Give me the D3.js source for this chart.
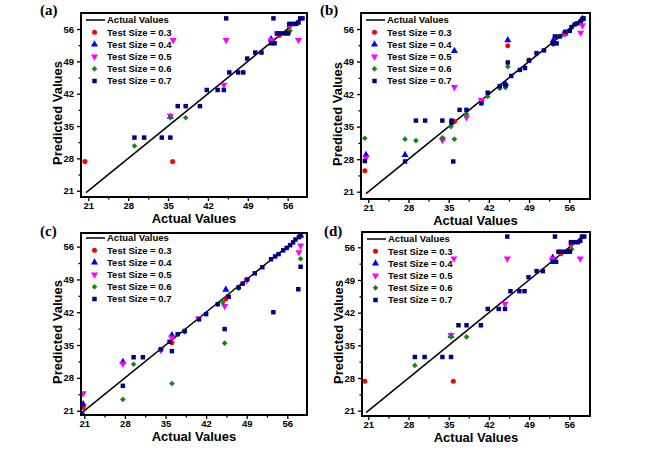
<!DOCTYPE html>
<html><head><meta charset="utf-8">
<script src="https://cdn.jsdelivr.net/npm/d3@7"></script>
<style>
body{margin:0;background:#fff}
svg{display:block}
</style>
</head><body>
<svg id="chart" width="669" height="474" font-family='"Liberation Sans", Arial, sans-serif' font-weight="bold"></svg>
<script>
// ---------- labels / ticks ----------
const majorTicks = [21, 28, 35, 42, 49, 56];
const minorTicks = [24.5, 31.5, 38.5, 45.5, 52.5];
const seriesNames = ["Test Size = 0.3", "Test Size = 0.4", "Test Size = 0.5", "Test Size = 0.6", "Test Size = 0.7"];
const lineLabel = "Actual Values";
const xTitle = "Actual Values";
const yTitle = "Predicted Values";
const panelLabels = ["(a)", "(b)", "(c)", "(d)"];
const diagonalRange = [20.6, 58.5];

// ---------- data: [actual, predicted] ----------
// panel (a) and (d) (identical content)
const ad_ts03 = [[20.4,27.3],[35.8,27.3],[56.3,56.6],[54.5,54.6]];
const ad_ts04 = [[35.4,37.0],[53.1,53.8]];
const ad_ts05 = [[35.9,53.6],[45.2,53.6],[44.8,43.9],[57.9,53.6],[53.1,53.6],[35.4,37.2],[56.4,56.8]];
const ad_ts06 = [[29.1,30.7],[35.4,36.8],[38.1,36.8],[56.1,55.3],[56.4,55.6]];
const ad_ts07 = [[29.1,32.5],[30.8,32.5],[33.9,32.5],[35.4,32.5],[36.7,39.3],[38.1,39.3],[40.6,39.3],
  [41.8,42.8],[43.7,42.8],[44.8,42.8],[45.75,46.6],[47.3,46.6],[48.2,46.6],[48.9,49.6],[50.3,50.9],
  [51.4,50.9],[53.1,52.9],[53.7,52.9],[54.1,55.05],[54.5,55.05],[55.2,55.05],[55.8,55.05],[56.1,55.05],
  [56.3,57.1],[56.9,57.1],[57.5,57.1],[57.9,57.4],[58.2,58.3],[58.6,58.3],[45.2,58.3],[53.5,58.3]];

// panel (b)
const b_ts03 = [[20.4,25.5],[36.0,36.1],[45.3,52.4],[40.7,40.5],[49.0,49.3],[55.4,55.0],[34.0,32.4]];
const b_ts04 = [[20.6,28.9],[27.4,28.9],[36.0,51.3],[45.3,53.6],[44.9,44.2],[53.2,53.5],[58.3,58.2]];
const b_ts05 = [[20.6,28.3],[33.9,32.1],[36.0,43.5],[38.1,37.0],[58.0,55.2],[58.3,56.8],[55.2,55.0],[40.7,40.7]];
const b_ts06 = [[20.4,32.5],[27.4,32.3],[29.3,32.0],[33.9,32.6],[36.0,32.3],[35.4,35.0],[38.1,37.7],
  [41.8,41.5],[43.9,43.2],[44.9,43.4],[45.3,47.9],[53.2,52.7],[56.6,56.6],[54.6,54.5]];
const b_ts07 = [[20.4,27.6],[27.4,27.5],[29.3,36.3],[30.9,36.3],[33.9,36.3],[35.5,36.3],[35.8,27.5],
  [35.5,35.8],[36.9,38.6],[38.1,38.6],[40.7,40.0],[41.8,42.3],[43.9,43.7],[44.9,43.9],[45.3,48.8],
  [45.9,45.9],[47.4,47.2],[48.3,47.6],[49.0,49.2],[50.3,50.8],[51.6,51.4],[53.2,52.9],[53.8,52.9],
  [53.5,54.4],[54.3,54.4],[55.3,55.4],[56.1,55.6],[56.4,56.4],[57.0,57.0],[57.4,57.2],[58.0,57.7],
  [58.3,58.1],[58.5,58.3]];

// panel (c)
const c_ts03 = [[20.8,21.7],[36.1,35.5],[45.4,44.8]];
const c_ts04 = [[20.8,20.1],[20.8,22.4],[27.65,31.4],[36.1,37.1],[45.4,46.8],[58.3,58.4]];
const c_ts05 = [[20.8,24.7],[27.65,31.0],[34.2,33.9],[36.1,36.6],[40.7,40.7],[45.2,43.3],[49.0,48.8],[58.0,54.8],[58.3,56.2]];
const c_ts06 = [[27.65,23.4],[29.5,30.9],[36.1,26.8],[38.3,37.8],[44.9,44.1],[45.2,35.4],[47.6,47.1],[58.3,53.4]];
const c_ts07 = [[27.65,26.3],[29.5,32.4],[31.1,32.4],[34.2,34.1],[35.7,35.7],[36.1,33.7],[37.1,37.3],
  [38.3,38.0],[40.8,40.5],[42.0,41.6],[44.0,43.7],[45.2,38.4],[45.9,45.3],[47.6,47.3],[48.3,48.1],
  [49.1,49.0],[50.4,50.3],[51.7,51.6],[53.2,53.3],[53.6,42.0],[53.9,53.9],[54.5,54.4],[55.3,55.2],
  [55.9,55.7],[56.5,56.3],[57.0,56.9],[57.4,57.5],[57.9,46.9],[58.0,58.0],[58.3,51.7],[58.3,58.3]];

// ---------- styles ----------
const colors = ["#ff0000", "#0000ff", "#ff00ff", "#118811", "#000080"];
const symbols = [
  {type: d3.symbolCircle, size: 20, rot: 0},
  {type: d3.symbolTriangle, size: 22, rot: 0},
  {type: d3.symbolTriangle, size: 22, rot: 180},
  {type: d3.symbolSquare, size: 16, rot: 45},
  {type: d3.symbolSquare, size: 20, rot: 0}
];

const panels = [
  {label: panelLabels[0], frame: [81, 13, 307, 197], xd: [19.72, 59.39], yd: [19.64, 59.46],
   series: [ad_ts03, ad_ts04, ad_ts05, ad_ts06, ad_ts07], labelPos: [40, 15], legY: 7},
  {label: panelLabels[1], frame: [361, 13, 590, 199], xd: [19.73, 59.62], yd: [19.43, 59.44],
   series: [b_ts03, b_ts04, b_ts05, b_ts06, b_ts07], labelPos: [320, 15], legY: 7},
  {label: panelLabels[2], frame: [81, 233, 307, 415], xd: [20.43, 59.4], yd: [20.08, 58.9],
   series: [c_ts03, c_ts04, c_ts05, c_ts06, c_ts07], labelPos: [40, 236], legY: 5},
  {label: panelLabels[3], frame: [362, 232, 590, 416], xd: [19.9, 59.6], yd: [19.86, 59.28],
   series: [ad_ts03, ad_ts04, ad_ts05, ad_ts06, ad_ts07], labelPos: [324, 236], legY: 7}
];

const svg = d3.select("#chart");
svg.append("rect").attr("width", 669).attr("height", 474).attr("fill", "#fff");

panels.forEach((p, pi) => {
  const [x0, y0, x1, y1] = p.frame;
  const x = d3.scaleLinear().domain(p.xd).range([x0, x1]);
  const y = d3.scaleLinear().domain(p.yd).range([y1, y0]);
  const g = svg.append("g");
  const clipId = "clip" + pi;
  g.append("clipPath").attr("id", clipId).append("rect")
    .attr("x", x0).attr("y", y0).attr("width", x1 - x0).attr("height", y1 - y0);

  // axes
  const styleAxis = (ax) => {
    ax.attr("font-family", null).attr("font-size", null);
    ax.select(".domain").remove();
    ax.selectAll("line").attr("stroke", "#000").attr("stroke-width", 1.3);
    ax.selectAll("text").attr("font-size", 9.5).attr("fill", "#000");
  };
  const xa = g.append("g").attr("transform", `translate(0,${y1})`)
    .call(d3.axisBottom(x).tickValues(majorTicks).tickSize(4).tickPadding(1.5).tickFormat(d3.format("d")));
  styleAxis(xa);
  const xm = g.append("g").attr("transform", `translate(0,${y1})`)
    .call(d3.axisBottom(x).tickValues(minorTicks).tickSize(2.5).tickFormat(""));
  styleAxis(xm);
  const ya = g.append("g").attr("transform", `translate(${x0},0)`)
    .call(d3.axisLeft(y).tickValues(majorTicks).tickSize(4).tickPadding(3).tickFormat(d3.format("d")));
  styleAxis(ya);
  const ym = g.append("g").attr("transform", `translate(${x0},0)`)
    .call(d3.axisLeft(y).tickValues(minorTicks).tickSize(2.5).tickFormat(""));
  styleAxis(ym);

  // diagonal line
  const plot = g.append("g").attr("clip-path", `url(#${clipId})`);
  plot.append("path")
    .datum(diagonalRange)
    .attr("d", d3.line().x(d => x(d)).y(d => y(d)))
    .attr("stroke", "#000").attr("stroke-width", 1.5).attr("fill", "none");

  // points
  p.series.forEach((s, si) => {
    const sym = d3.symbol().type(symbols[si].type).size(symbols[si].size);
    plot.selectAll(null).data(s).enter().append("path")
      .attr("d", sym)
      .attr("transform", d => `translate(${x(d[0])},${y(d[1])}) rotate(${symbols[si].rot})`)
      .attr("fill", colors[si]);
  });

  // frame
  g.append("rect").attr("x", x0).attr("y", y0).attr("width", x1 - x0).attr("height", y1 - y0)
    .attr("fill", "none").attr("stroke", "#000").attr("stroke-width", 2);

  // legend
  const lg = g.append("g").attr("transform", `translate(${x0},${y0 + p.legY})`);
  lg.append("line").attr("x1", 5).attr("x2", 24).attr("y1", 0).attr("y2", 0)
    .attr("stroke", "#000").attr("stroke-width", 1.5);
  lg.append("text").attr("x", 26).attr("y", 0).attr("dy", "0.35em")
    .attr("font-size", 9.5).text(lineLabel);
  seriesNames.forEach((name, si) => {
    const yy = 12.2 * (si + 1);
    const sym = d3.symbol().type(symbols[si].type).size(symbols[si].size);
    lg.append("path").attr("d", sym)
      .attr("transform", `translate(13.5,${yy}) rotate(${symbols[si].rot})`)
      .attr("fill", colors[si]);
    lg.append("text").attr("x", 26).attr("y", yy).attr("dy", "0.35em")
      .attr("font-size", 9.5).text(name);
  });

  // axis titles
  g.append("text").attr("x", (x0 + x1) / 2).attr("y", y1 + 26)
    .attr("text-anchor", "middle").attr("font-size", 13).text(xTitle);
  g.append("text").attr("transform", `translate(${x0 - 19},${(y0 + y1) / 2 + 8}) rotate(-90)`)
    .attr("text-anchor", "middle").attr("font-size", 13).text(yTitle);

  // panel label
  g.append("text").attr("x", p.labelPos[0]).attr("y", p.labelPos[1])
    .attr("font-family", '"Liberation Serif", "Times New Roman", serif')
    .attr("font-size", 15).attr("font-weight", "bold").text(p.label);
});
</script>
</body></html>
